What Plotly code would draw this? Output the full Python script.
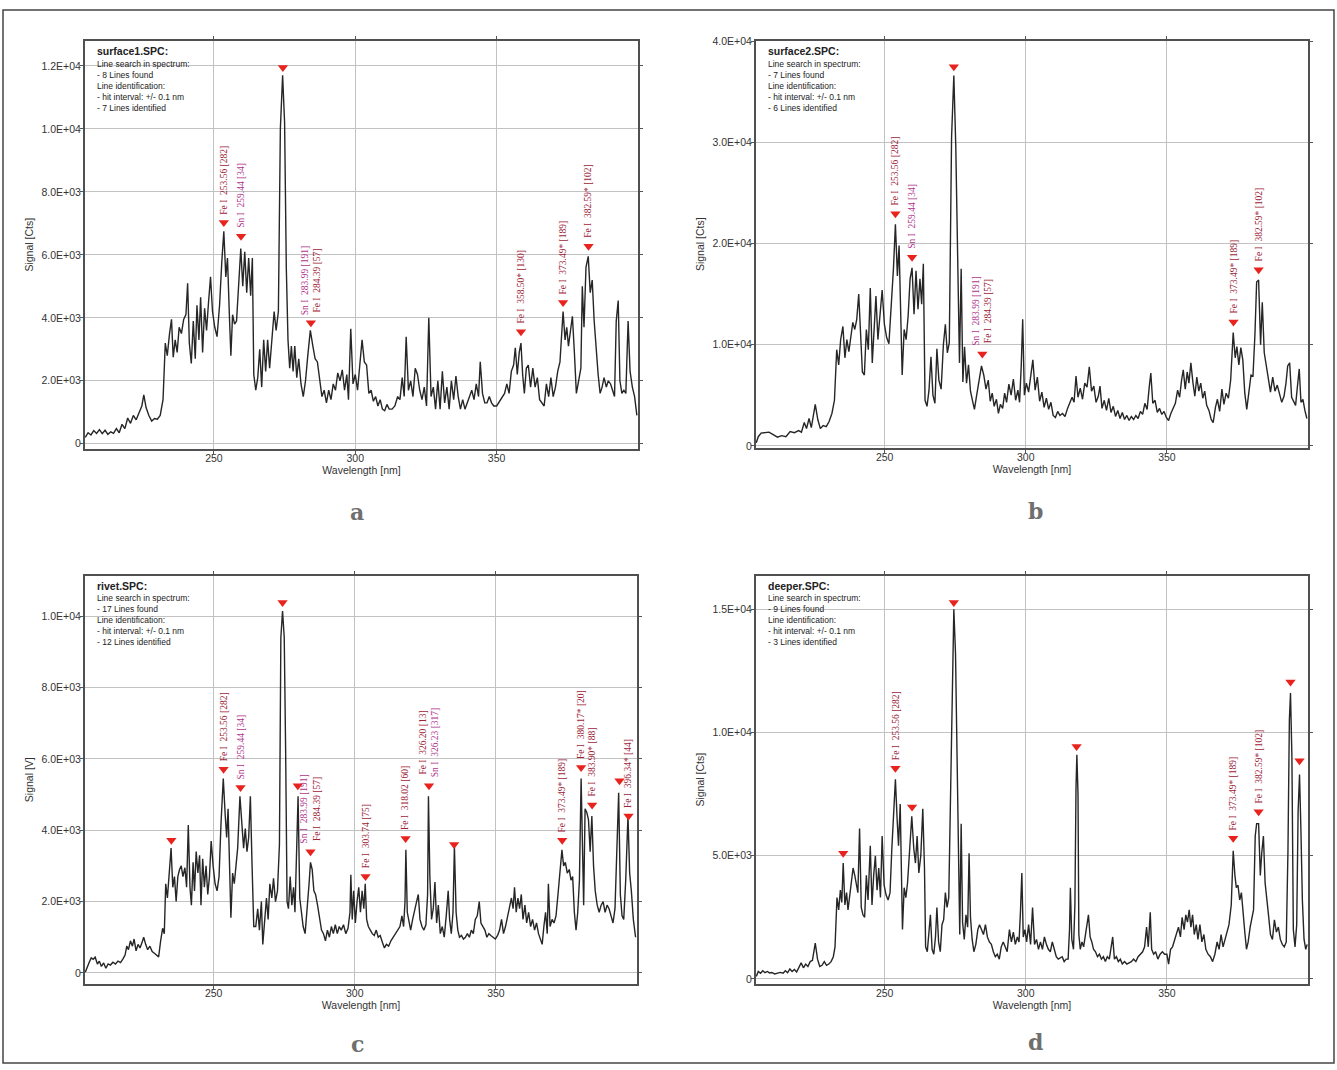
import plotly.graph_objects as go

W, H = 1337, 1070

# ---------------- data: panel a (surface1.SPC) ----------------
wl_a = [204.5,205.5,206.5,207.5,208.5,209.5,210.5,211.5,212.5,213.5,214.5,215.5,216.5,217.5,218.5,219.5,220.5,221.5,222.5,223.5,
        224.5,225.2,226,227,228,229,230,231,232,232.8,233.5,234.3,235,235.6,236.3,237,237.7,238.5,239.3,240.1,
        240.7,241.3,242,242.7,243.4,244,244.7,245.3,246,246.7,247.4,248.1,248.8,249.5,250.3,251.1,252,252.8,253.5,254.2,
        254.8,255.5,256,256.6,257.3,258,258.8,259.5,260.2,260.9,261.6,262.3,263,263.6,264.1,264.8,265.5,266.2,266.9,267.6,
        268.3,269,269.7,270.5,271.3,272,272.8,273.5,274.3,275,275.6,276.2,276.8,277.4,278,278.6,279.3,280,280.8,281.6,
        282.4,283.2,284.1,285,285.8,286.6,287.4,288.2,289,289.8,290.6,291.4,292.2,293,293.8,294.6,295.4,296.2,297,297.6,
        298.4,299.2,300,300.8,301.6,302.4,303.2,304,304.8,305.6,306.4,307.2,308,308.8,309.6,310.4,311.2,312,313,314,
        315,315.8,316.6,317.3,318,318.8,319.6,320.4,321.2,322,322.8,323.6,324.4,325.2,326,326.8,327.6,328.4,329.2,330,
        330.8,331.6,332.4,333.2,334,334.8,335.6,336.4,337.2,338,338.8,339.6,340.4,341.2,342,342.8,343.6,344.2,345,345.8,
        346.6,347.4,348.2,349,350,351,352,352.8,353.6,354.4,355.2,356,356.6,357.3,358,358.6,359.2,359.8,360.5,361.2,
        362,362.8,363.6,364.4,365.2,366,366.8,367.6,368.4,369.2,370,370.8,371.6,372.4,373.5,374.2,374.8,375.4,376.1,376.8,
        377.5,378.2,379,379.8,380.3,380.9,381.6,382.4,383.1,383.8,384.5,385.2,385.9,386.6,387.3,388,388.8,389.5,390.3,391,
        391.7,392.3,393,393.6,394.3,395,395.7,396.5,397.2,398,398.8,399.6]
sig_a = [200,350,280,420,330,450,320,430,300,380,330,480,350,620,480,820,650,900,760,1000,
         1200,1550,1150,900,720,800,780,900,1400,3200,2800,3500,3950,2750,3300,2900,3700,3500,3950,4100,
         5100,3200,2550,3900,2700,4400,3300,4650,2900,4300,3600,4500,5300,4200,3700,3400,4400,5800,6750,5300,
         5900,4000,2800,4100,3800,3900,5000,6200,5000,6100,4800,5900,4700,5900,2200,1700,2100,3000,1800,3300,
         2300,3300,2400,3200,4200,3600,4200,10000,11700,10200,5600,3300,2400,3100,2300,3100,2100,2700,1900,1500,
         2000,2800,3600,3100,2700,2600,2100,1500,1700,1300,1700,1400,1900,1700,2250,2000,2350,1700,2200,1400,
         3650,1900,2200,1700,2500,3300,2600,2500,1600,1700,1350,1500,1200,1400,1100,1050,1250,1100,1100,1200,
         1500,1400,2100,1500,3400,1700,2000,1500,2400,2200,1700,1400,1800,1200,4000,1500,1800,1100,2000,1100,
         2300,1300,1800,1100,2000,1400,2150,1500,1100,1400,1100,1300,1500,1700,1400,1900,1500,2600,1600,1300,
         1300,1500,1300,1200,1200,1350,1500,1600,1900,1600,2300,2500,3050,2200,2900,3200,2200,1600,2400,2500,
         1800,2400,1800,2100,1400,1300,1200,1900,1500,2100,1500,1800,2300,2600,4200,3300,3700,3100,3600,4050,
         2900,1600,2000,2400,5000,3700,5600,5950,4800,5200,3900,2900,2200,1600,1800,2100,1800,2000,1900,1700,
         1500,3900,4550,2000,1600,1700,1600,3900,2300,1800,1500,900]

# ---------------- data: panel b (surface2.SPC) ----------------
wl_b = [204.5,205.2,206.2,207.5,209,210.5,212,213.5,215,216.5,218,219.5,220.5,221.5,222.3,223.2,224,225.4,226.3,227.2,
        228.2,229.3,230.3,231.3,232.2,233,233.7,234.4,235.2,235.9,236.6,237.3,238,238.7,239.4,240.1,240.8,241.5,242.1,242.8,
        243.5,244.2,244.9,245.6,246.3,246.9,247.6,248.3,249.1,249.9,250.7,251.5,252.3,253.1,253.8,254.5,255.1,255.7,256.2,256.9,
        257.6,258.3,259,259.7,260.4,261.1,261.8,262.5,263.1,263.7,264.3,265,265.7,266.4,267.1,267.8,268.5,269.2,270,270.8,
        271.5,272.2,272.9,273.7,274.5,275.2,275.9,276.5,277.1,277.7,278.3,279,279.7,280.4,281.1,281.8,282.6,283.4,284.3,285.1,
        285.9,286.7,287.4,288.1,288.8,289.6,290.3,291,291.8,292.5,293.2,294,294.8,295.6,296.4,297.2,297.8,298.4,298.9,299.5,
        300.2,301,301.8,302.5,303.3,304.1,304.9,305.7,306.5,307.3,308.1,308.9,309.7,310.5,311.3,312.1,313,313.9,314.8,315.6,
        316.4,317.1,317.8,318.5,319.3,320.1,320.9,321.7,322.5,323.3,324.1,324.9,325.7,326.3,327,327.8,328.6,329.4,330.2,331,
        331.8,332.6,333.4,334.2,335,335.8,336.6,337.4,338.2,339,339.8,340.6,341.4,342.2,343,343.7,344.3,345,345.8,346.6,
        347.4,348.2,349,349.8,350.6,351.4,352.2,353,353.8,354.5,355.2,355.8,356.5,357.2,357.8,358.5,359.2,359.9,360.6,361.3,
        362,362.7,363.4,364.1,364.9,365.7,366.4,367.2,367.9,368.7,369.5,370.2,371,371.8,372.6,373.5,374.2,374.8,375.5,376.2,
        376.9,377.6,378.3,379.1,379.8,380.5,381.2,381.8,382.5,383.2,383.8,384.5,385.2,386,386.7,387.5,388.3,389.1,389.9,390.7,
        391.5,392.2,392.8,393.5,394.2,394.9,395.6,396.3,396.9,397.5,398.2,398.9,399.6]
sig_b = [300,900,1250,1300,1350,1100,850,1000,900,1400,1300,1500,1350,2300,1700,2700,1800,4100,2600,1700,
         2000,1900,2400,3200,4500,9500,8000,10500,11800,8700,10500,9300,11000,12200,11500,12500,15000,10000,7300,7000,
         11500,9500,15600,8200,12500,14800,10500,13000,15400,12000,10700,10100,13500,17500,21900,16800,19800,12500,7000,11500,
         10500,12800,16500,17600,13000,17300,13500,16500,14000,18000,4500,3900,5500,8800,5000,4200,9600,6500,5600,10000,
         12000,9200,10200,30500,36600,29500,17000,8200,17500,6300,9800,6200,8000,5400,4500,3600,5000,6500,7900,7000,
         5600,6500,4400,5200,3900,4600,3200,4100,3700,5200,4300,6100,5000,6600,4500,5500,4300,8000,12500,5000,
         6200,5300,6800,8500,5500,6800,4400,5300,3800,4700,3600,4300,3000,2800,3400,3000,3200,2900,3700,4200,
         4800,4300,6900,4800,5700,4600,6200,5800,7800,5400,5900,4300,4900,5900,3700,4500,3500,4700,3300,3900,
         2900,3500,2700,3300,2600,3000,2500,2900,2600,3000,2700,3400,3100,4200,3600,5700,7200,4200,4500,3300,
         3700,3100,3400,2800,2500,3200,3700,4200,5500,4800,6500,7500,5600,7300,6200,8200,6300,4900,6800,5400,
         6200,4700,5400,4000,3500,2600,2300,3800,4600,3400,5600,4100,5200,4700,6500,11200,8700,9800,8000,9700,
         8500,5200,3600,5500,7000,6900,11000,16200,16400,10000,14200,9200,8000,6500,5300,6800,5400,6000,5000,4300,
         4900,6200,7900,8200,4800,4300,4000,6000,7600,4300,4600,3500,2700]

# ---------------- data: panel c (rivet.SPC) ----------------
wl_c = [204.5,205.2,205.9,206.6,207.3,208,208.8,209.5,210.2,211,211.8,212.6,213.4,214.3,215.2,216.1,217,217.9,218.6,219.2,
        219.8,220.5,221.2,221.8,222.5,223.2,223.9,224.6,225.2,225.9,226.6,227.4,228.2,229,229.8,230.5,231.2,231.9,232.5,233,
        233.6,234.2,234.9,235.5,236.1,236.7,237.3,237.9,238.5,239.1,239.8,240.4,241,241.6,242.1,242.7,243.2,243.8,244.4,245,
        245.5,246.1,246.7,247.3,247.9,248.5,249.1,249.8,250.5,251.2,251.9,252.6,253.4,254.1,254.6,255.1,255.7,256.1,256.7,257.3,
        257.9,258.5,259.3,260,260.6,261.2,261.8,262.4,263,263.6,264.2,264.9,265.6,266.2,266.9,267.4,268.1,268.7,269.3,269.9,
        270.6,271.2,271.9,272.6,273.3,273.8,274.4,275,275.5,276,276.5,277.1,277.7,278.3,278.8,279.4,279.9,280.5,281.1,281.7,
        282.4,283.1,283.8,284.3,284.9,285.5,286.1,286.8,287.5,288.2,288.9,289.6,290.3,291,291.7,292.4,293.1,293.8,294.5,295.2,
        296,296.8,297.6,298.3,298.6,299.1,299.6,300.2,300.8,301.4,302,302.6,303.2,303.7,304.2,304.8,305.5,306.2,306.9,307.6,
        308.3,309,309.8,310.5,311.2,312,312.8,313.6,314.4,315.2,316,316.7,317.3,317.8,318.1,318.6,319.2,319.8,320.5,321.2,
        321.9,322.5,323.1,323.8,324.5,325.2,325.8,326.1,326.6,327.2,327.8,328.4,329,329.6,330.3,331,331.7,332.4,333.1,333.6,
        334.2,334.8,335.3,335.9,336.5,337.1,337.8,338.5,339.2,339.9,340.6,341.3,342,342.7,343.4,344.1,344.7,345.4,346.1,346.8,
        347.5,348.2,349,349.8,350.6,351.3,352,352.7,353.4,354.1,354.8,355.5,356.1,356.6,357.2,357.8,358.4,359,359.6,360.3,
        360.9,361.6,362.3,363,363.7,364.4,365.1,365.8,366.4,367,367.6,368.2,368.6,369.2,369.9,370.6,371.3,372,372.6,373.4,
        374,374.6,375.3,376,376.6,377.2,377.8,378.4,379,379.6,380.2,380.7,381.1,381.6,382.2,382.8,383.4,384,384.6,385.2,
        385.9,386.6,387.3,388,388.7,389.4,390.1,390.8,391.5,392.2,392.8,393.5,394.1,394.7,395.3,396,396.8,397.4,398,398.7,
        399.5]
sig_c = [20,180,300,420,380,440,250,330,180,280,130,250,220,300,250,330,290,400,500,750,
         650,900,750,950,620,800,700,850,1000,800,650,750,600,550,500,450,900,1250,1100,2500,
         2100,2700,3500,2400,2700,2000,2700,2900,3000,2700,2950,2400,4150,2400,1900,3100,2300,3400,2800,3300,
         1900,3200,2400,3000,2200,2700,3700,3000,2500,2300,2700,4200,5450,4400,3800,4600,2600,1550,2800,2500,
         3000,3500,4950,4100,3500,4050,3400,3800,4950,3000,1300,1300,1800,1200,2000,800,1550,2100,1500,2500,
         2100,2650,2000,2300,3600,9400,10150,9400,6200,2000,1800,2700,1900,2400,1700,3500,4950,2100,1600,1300,
         1100,1700,2500,3100,2900,2300,2200,1900,1500,1200,1100,900,1200,1000,1300,1100,1350,1100,1300,1200,
         1350,1100,1250,1700,2750,1500,2300,1400,2000,2400,1700,2300,1800,2500,1500,1300,1200,1100,1050,1200,
         1000,1050,850,700,800,750,900,1000,1100,1200,1300,1600,1300,2000,3450,1700,1400,1200,1500,1800,
         2000,2200,1500,1300,1200,1350,2200,4950,2700,1500,1800,2550,1400,1900,1100,1300,1000,1600,2300,1500,
         1100,1700,3550,1700,1200,1000,1050,950,1000,1100,1000,1200,1100,1500,1600,2000,1400,1300,1200,1000,
         1100,1050,1000,950,1050,1200,1500,1100,1300,1600,1900,2100,1800,2400,1700,2100,1800,2200,1500,1900,
         1400,1700,1300,1500,1200,1400,1100,900,800,1300,1700,1100,2500,1300,1500,1400,1600,2200,2700,3450,
         3000,3100,2800,2900,2600,2700,1700,1200,1700,2600,5450,2800,1900,4600,4500,4300,3400,4400,3000,2300,
         1900,1700,1900,2000,1700,1900,1800,1600,1400,1800,3400,5050,2200,1600,1500,2600,4400,2800,2300,1500,
         1000]

# ---------------- data: panel d (deeper.SPC) ----------------
wl_d = [204.5,205.2,206,206.8,207.6,208.4,209.2,210,211,212,213,214,214.8,215.6,216.4,217.2,218,218.8,219.6,220.4,
        221.2,222,222.8,223.6,224.4,225.4,226.2,227,227.8,228.6,229.4,230.2,231,231.8,232.4,233.1,233.7,234.3,234.8,235.3,
        235.9,236.5,237,237.6,238.2,238.8,239.4,240,240.5,241.1,241.7,242.3,242.9,243.5,244.1,244.9,245.5,246.1,246.7,247.3,
        247.9,248.5,249.1,249.8,250.5,251.2,251.9,252.5,253.2,253.8,254.4,254.9,255.5,256,256.3,256.9,257.5,258.1,258.8,259.6,
        260.3,260.9,261.5,262.1,262.8,263.5,264.1,264.5,265.1,265.7,266.2,266.8,267.4,268,268.5,269.1,269.7,270.3,270.9,271.5,
        272.1,272.7,273.4,274.1,274.5,275.1,275.7,276.2,276.6,277.1,277.6,278.2,278.8,279.4,279.9,280.4,281,281.6,282.3,283,
        283.6,284.3,285,285.7,286.4,287.1,287.8,288.5,289.2,289.9,290.6,291.3,292,292.7,293.4,294.2,294.9,295.6,296.3,297,
        297.6,298.1,298.6,299.1,299.7,300.3,301,301.7,302.4,303.1,303.8,304.5,305.2,305.9,306.6,307.3,308,308.7,309.4,310.1,
        310.8,311.5,312.2,312.9,313.6,314.3,315,315.5,315.8,316.3,316.9,317.4,317.8,318.1,318.5,318.8,319.3,319.9,320.5,321.1,
        321.7,322.2,322.8,323.4,324,324.7,325.4,326.1,326.8,327.5,328.2,328.9,329.6,330.3,330.8,331.4,332.1,332.8,333.5,334.2,
        335,335.8,336.6,337.4,338.2,339,339.8,340.6,341.4,342.1,342.8,343.4,344.1,344.6,345.3,346,346.8,347.6,348.4,349.2,
        350,350.6,351.3,352,352.7,353.4,354.1,354.8,355.4,356.1,356.7,357.3,357.9,358.5,359.1,359.7,360.4,361,361.7,362.4,
        363.1,363.8,364.6,365.4,366.2,367,367.8,368.5,369.2,369.9,370.6,371.3,372,372.8,373.5,374.1,374.6,375.2,375.8,376.4,
        377,377.6,378.2,378.8,379.5,380.2,380.7,381.3,381.8,382.5,383.1,383.6,384.2,384.8,385.4,386,386.7,387.4,388.1,388.8,
        389.5,390.2,390.9,391.6,392.3,392.9,393.4,393.8,394.3,394.8,395.4,396,396.5,397,397.5,398,398.6,399.2,399.7]
sig_d = [100,300,230,330,250,300,240,260,200,220,260,230,330,250,400,300,380,280,500,650,
         450,600,500,700,750,1450,800,500,550,700,550,600,700,900,1300,3300,2800,3600,3100,4700,
         3000,3500,2800,3300,4000,4500,4200,3700,3500,6100,2900,2600,2500,4200,3200,5400,3000,4200,5000,3600,
         4500,3300,5800,3800,3400,3200,3500,5200,6600,8100,6500,5400,7100,4000,2000,3700,3300,3900,5000,6600,
         5300,4700,5800,4300,5000,6900,4500,1300,1100,1800,2600,1200,1000,1700,2900,1500,1100,2200,2400,3500,
         2900,3300,8000,12800,15000,13200,8000,3200,1800,6300,2300,1600,2600,2100,5100,2500,1600,1100,1400,2000,
         2200,2000,1800,2200,1700,1500,1400,1100,900,1000,800,1300,1500,1300,1100,2000,1500,1900,1400,1700,
         1500,2700,4300,1700,2000,1500,2200,1400,2900,1400,1600,1200,1500,1200,1700,1400,1200,1100,1500,1200,
         900,800,850,900,700,800,800,2000,3700,1600,1200,3000,7800,9100,7500,1800,1200,1500,1300,1800,
         2200,2600,1700,1500,1200,1100,900,1000,800,900,700,900,800,1300,1700,800,900,700,800,600,
         700,600,650,700,800,700,900,1000,1100,1300,2100,1300,2700,1200,1000,1100,800,1000,1100,1000,
         1000,600,1200,1300,1600,1900,2100,1700,2500,2000,2600,2300,2800,2100,2600,1800,2200,1600,2200,1500,
         1800,1200,1000,900,700,1000,1500,1200,1800,1300,1600,1900,2200,3000,5200,4200,3700,3800,3200,3500,
         2500,1900,1200,1500,2100,2600,2800,5800,6300,6300,4200,5100,5800,3900,3100,2600,1800,1600,2400,1900,
         2100,1600,1400,1300,1500,5200,10500,11600,9000,2000,1300,2200,6800,8300,6000,3200,1600,1200,1400]

# ---------------- line-search markers and identifications ----------------
mk_x_a = [253.5, 259.6, 274.4, 284.3, 358.6, 373.5, 382.5]
mk_y_a = [7030, 6590, 11945, 3840, 3560, 4490, 6270]
lab_a = ["Fe I|253.56 [282]", "Sn I|259.44 [34]", "", "Sn I|283.99 [191];Fe I|284.39 [57]",
         "Fe I|358.50* [130]", "Fe I|373.49* [189]", "Fe I|382.59* [102]"]

mk_x_b = [253.8, 259.7, 274.5, 284.6, 373.6, 382.5]
mk_y_b = [22950, 18640, 37480, 9080, 12240, 17400]
lab_b = ["Fe I|253.56 [282]", "Sn I|259.44 [34]", "", "Sn I|283.99 [191];Fe I|284.39 [57]",
         "Fe I|373.49* [189]", "Fe I|382.59* [102]"]

mk_x_c = [235.0, 253.5, 259.5, 274.4, 279.8, 284.3, 303.8, 318.0, 326.3, 335.2, 373.5, 380.2, 384.1, 393.8, 397.0]
mk_y_c = [3720, 5710, 5200, 10390, 5250, 3400, 2700, 3770, 5250, 3600, 3720, 5760, 4710, 5390, 4400]
lab_c = ["", "Fe I|253.56 [282]", "Sn I|259.44 [34]", "", "", "Sn I|283.99 [191];Fe I|284.39 [57]",
         "Fe I|303.74 [75]", "Fe I|318.02 [60]", "Fe I|326.20 [13];Sn I|326.23 [317]", "",
         "Fe I|373.49* [189]", "Fe I|380.17* [20]", "Fe I|383.90* [88]", "", "Fe I|396.34* [44]"]

mk_x_d = [235.3, 253.8, 259.7, 274.5, 318.0, 373.5, 382.5, 393.8, 397.0]
mk_y_d = [5100, 8550, 6980, 15280, 9430, 5710, 6780, 12050, 8850]
lab_d = ["", "Fe I|253.56 [282]", "", "", "", "Fe I|373.49* [189]", "Fe I|382.59* [102]", "", ""]

# ---------------- axis ticks ----------------
yt_a = [0, 2000, 4000, 6000, 8000, 10000, 12000]
ytt_a = ["0", "2.0E+03", "4.0E+03", "6.0E+03", "8.0E+03", "1.0E+04", "1.2E+04"]
yt_b = [0, 10000, 20000, 30000, 40000]
ytt_b = ["0", "1.0E+04", "2.0E+04", "3.0E+04", "4.0E+04"]
yt_c = [0, 2000, 4000, 6000, 8000, 10000]
ytt_c = ["0", "2.0E+03", "4.0E+03", "6.0E+03", "8.0E+03", "1.0E+04"]
yt_d = [0, 5000, 10000, 15000]
ytt_d = ["0", "5.0E+03", "1.0E+04", "1.5E+04"]
xt = [250, 300, 350]

info_titles = ["surface1.SPC:", "surface2.SPC:", "rivet.SPC:", "deeper.SPC:"]
info_bodies = [
    ["Line search in spectrum:", "- 8 Lines found", "Line identification:", "- hit interval: +/- 0.1 nm", "- 7 Lines identified"],
    ["Line search in spectrum:", "- 7 Lines found", "Line identification:", "- hit interval: +/- 0.1 nm", "- 6 Lines identified"],
    ["Line search in spectrum:", "- 17 Lines found", "Line identification:", "- hit interval: +/- 0.1 nm", "- 12 Lines identified"],
    ["Line search in spectrum:", "- 9 Lines found", "Line identification:", "- hit interval: +/- 0.1 nm", "- 3 Lines identified"],
]
letters = ["a", "b", "c", "d"]
ytitles = ["Signal [Cts]", "Signal [Cts]", "Signal [V]", "Signal [Cts]"]

# ---------------- styling / layout geometry (pixels) ----------------
FE = "#9c2437"
SN = "#b0348c"
boxes = [(85, 638, 35, 447), (756, 1308, 35, 446), (85, 637, 575, 987), (756, 1308, 575, 987)]
yranges = [[-160, 12800], [-200, 40050], [-305, 11140], [-200, 16370]]
xrange_ = [204.4, 400.0]
letter_pos = [(357, 511), (1035, 510), (357, 1048), (1035, 1046)]

panels = [
    (wl_a, sig_a, mk_x_a, mk_y_a, lab_a, yt_a, ytt_a),
    (wl_b, sig_b, mk_x_b, mk_y_b, lab_b, yt_b, ytt_b),
    (wl_c, sig_c, mk_x_c, mk_y_c, lab_c, yt_c, ytt_c),
    (wl_d, sig_d, mk_x_d, mk_y_d, lab_d, yt_d, ytt_d),
]

NB = "\u00a0"


def fmt_label(s):
    parts = []
    for line in s.split(";"):
        el, rest = line.split("|")
        col = FE if el.startswith("Fe") else SN
        parts.append(f"<span style='color:{col}'>{el}{NB}{NB}{rest}</span>")
    return "<br>".join(parts)


fig = go.Figure()
annotations = []
layout = dict(
    width=W, height=H,
    margin=dict(l=0, r=0, t=0, b=0),
    paper_bgcolor="white", plot_bgcolor="white",
    showlegend=False,
    font=dict(family="Liberation Sans, Arial, sans-serif", color="#333333"),
)

for i, (wl, sig, mx, my, labs, yt, ytt) in enumerate(panels):
    n = "" if i == 0 else str(i + 1)
    xa, ya = "x" + n, "y" + n
    x0, x1, y0, y1 = boxes[i]
    fig.add_trace(go.Scatter(x=wl, y=sig, mode="lines", xaxis=xa, yaxis=ya,
                             line=dict(color="#262626", width=1.4), hoverinfo="skip"))
    fig.add_trace(go.Scatter(x=mx, y=my, mode="markers", xaxis=xa, yaxis=ya,
                             marker=dict(symbol="triangle-down", size=9, color="#e8231d",
                                         line=dict(width=0)), hoverinfo="skip"))
    common = dict(showline=True, linecolor="#505050", linewidth=2, mirror="allticks",
                  ticks="outside", ticklen=3, tickcolor="#555555", tickwidth=1,
                  showgrid=True, gridcolor="#c2c2c2", gridwidth=1.2, zeroline=False,
                  tickfont=dict(size=10.5, color="#333333"))
    layout["xaxis" + n] = dict(common, domain=[x0 / W, x1 / W], anchor=ya, range=xrange_,
                               tickvals=xt, ticktext=[str(v) for v in xt],
                               ticklabelstandoff=-4,
                               title=dict(text="Wavelength [nm]", standoff=2,
                                          font=dict(size=10.5, color="#333333")))
    layout["yaxis" + n] = dict(common, domain=[1 - y1 / H, 1 - y0 / H], anchor=xa, range=yranges[i],
                               tickvals=yt, ticktext=ytt,
                               ticklabelstandoff=-3,
                               title=dict(text=ytitles[i], standoff=6,
                                          font=dict(size=10.5, color="#333333")))
    for xv, yv, lab in zip(mx, my, labs):
        if lab:
            annotations.append(dict(x=xv, y=yv, xref=xa, yref=ya, text=fmt_label(lab),
                                    textangle=-90, showarrow=False, xanchor="center",
                                    yanchor="bottom", yshift=6,
                                    font=dict(family="Liberation Serif, Times New Roman, serif", size=9.5)))
    # info text block
    annotations.append(dict(x=(x0 + 10) / W, y=1 - (y0 + 2) / H, xref="paper", yref="paper",
                            text="<b>" + info_titles[i] + "</b>", showarrow=False,
                            xanchor="left", yanchor="top", align="left",
                            font=dict(size=10.5, color="#222222")))
    annotations.append(dict(x=(x0 + 10) / W, y=1 - (y0 + 16) / H, xref="paper", yref="paper",
                            text="<br>".join(info_bodies[i]), showarrow=False,
                            xanchor="left", yanchor="top", align="left",
                            font=dict(size=8.5, color="#222222")))
    # panel letter
    lx, ly = letter_pos[i]
    annotations.append(dict(x=lx / W, y=1 - ly / H, xref="paper", yref="paper",
                            text="<b>" + letters[i] + "</b>", showarrow=False,
                            xanchor="center", yanchor="middle",
                            font=dict(family="DejaVu Serif, serif", size=22, color="#6f6f6f")))

layout["annotations"] = annotations
layout["shapes"] = [dict(type="rect", xref="paper", yref="paper",
                         x0=3 / W, x1=1334 / W, y0=1 - 1067 / H, y1=1 - 4 / H,
                         line=dict(color="#444444", width=1.5))]
fig.update_layout(**layout)

fig.write_html("out.html", include_plotlyjs=True, config={"displayModeBar": False},
               post_script="document.body.style.margin='0';document.body.style.overflow='hidden';")
